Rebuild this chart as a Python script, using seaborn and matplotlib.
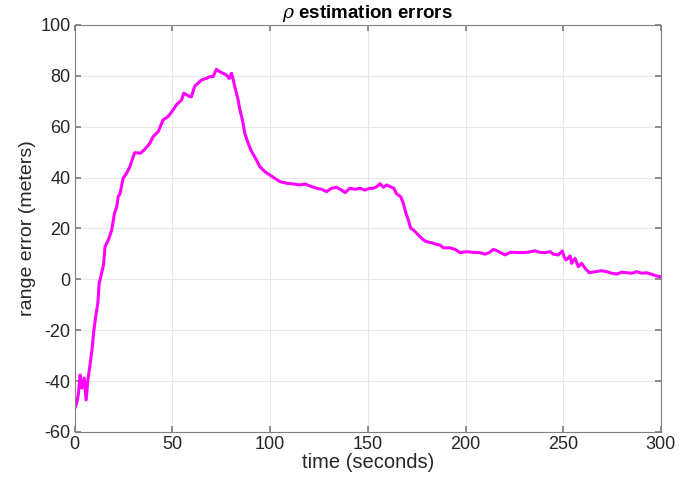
import matplotlib
matplotlib.use("Agg")
import matplotlib.pyplot as plt
import seaborn as sns
import pandas as pd

# Range estimation error of rho over the run
time_s = [
    0.0, 1.0, 1.9, 2.7, 3.6, 4.8, 5.8, 6.7, 7.8, 9.0, 9.6, 10.7, 11.8, 12.5,
    13.5, 14.7, 15.5, 17.2, 18.9, 20.3, 21.5, 22.2, 23.2, 24.7, 26.5, 28.2,
    30.2, 30.7, 33.6, 35.8, 38.4, 40.1, 42.7, 45.2, 47.8, 50.3, 52.0, 54.6,
    55.8, 58.9, 59.7, 61.4, 63.1, 64.9, 67.4, 69.1, 70.8, 72.5, 74.2, 75.9,
    77.6, 79.0, 80.2, 81.1, 81.9, 83.6, 84.5, 85.8, 87.0, 88.7, 90.5, 93.0,
    94.7, 97.3, 99.8, 102.4, 105.0, 108.4, 111.8, 115.2, 117.8, 120.4, 123.8,
    126.3, 128.9, 131.4, 134.0, 136.5, 138.3, 140.8, 143.4, 145.9, 148.5,
    151.0, 152.7, 154.5, 156.2, 157.9, 159.6, 161.6, 163.3, 164.7, 166.8,
    168.1, 169.5, 170.7, 171.9, 173.3, 175.0, 176.7, 178.4, 180.1, 182.6,
    185.2, 186.9, 188.6, 192.0, 194.6, 197.1, 200.5, 203.9, 207.4, 209.9,
    212.1, 214.2, 215.9, 218.5, 220.2, 222.7, 225.3, 227.9, 231.3, 235.5,
    238.1, 240.7, 243.2, 244.9, 247.5, 249.5, 250.4, 251.4, 253.5, 254.3,
    256.0, 257.7, 259.4, 261.1, 263.3, 266.3, 269.7, 272.2, 274.8, 277.4,
    279.9, 282.5, 285.1, 287.6, 290.2, 292.7, 295.3, 297.8, 300.0,
]
range_error_m = [
    -50.7, -48.5, -44.8, -37.6, -42.7, -38.8, -47.4, -39.5, -33.6, -26.4,
    -21.0, -14.6, -9.3, -1.4, 1.7, 5.7, 12.9, 15.5, 19.4, 26.0, 28.6, 32.5,
    33.8, 39.7, 41.7, 44.3, 48.9, 49.8, 49.6, 51.1, 53.5, 56.1, 58.1, 62.7,
    64.0, 66.6, 68.6, 70.5, 73.2, 71.8, 71.8, 76.0, 77.1, 78.4, 79.0, 79.7,
    79.7, 82.6, 81.6, 81.0, 80.3, 79.0, 81.0, 78.4, 75.7, 70.5, 66.6, 62.7,
    57.4, 53.5, 50.2, 46.9, 44.3, 42.3, 41.0, 39.7, 38.4, 37.8, 37.5, 37.1,
    37.5, 36.7, 35.8, 35.4, 34.5, 35.8, 36.2, 35.1, 34.1, 35.8, 35.4, 35.8,
    35.1, 35.8, 35.8, 36.4, 37.6, 36.2, 37.1, 36.4, 35.8, 33.6, 32.5, 29.9,
    26.0, 23.3, 20.1, 19.4, 18.1, 16.8, 15.5, 14.8, 14.4, 13.7, 13.5, 12.4,
    12.4, 11.8, 10.5, 10.9, 10.6, 10.5, 9.9, 10.5, 11.8, 11.3, 10.3, 9.6,
    10.6, 10.6, 10.5, 10.6, 11.2, 10.6, 10.5, 10.9, 9.9, 9.6, 11.2, 8.9, 7.6,
    9.2, 6.3, 8.3, 5.0, 6.3, 4.4, 2.6, 3.0, 3.4, 3.0, 2.4, 2.1, 2.8, 2.6, 2.4,
    3.0, 2.4, 2.6, 2.0, 1.3, 1.0,
]

df = pd.DataFrame({"t": time_s, "err": range_error_m})

sns.set_theme(style="whitegrid")
plt.rcParams["font.family"] = ["Liberation Sans", "DejaVu Sans"]
plt.rcParams["axes.unicode_minus"] = False
plt.rcParams["mathtext.fontset"] = "custom"
plt.rcParams["mathtext.it"] = "DejaVu Serif:italic"

fig = plt.figure(figsize=(6.8, 4.8), dpi=100)
ax = fig.add_axes([0.110, 0.100, 0.862, 0.848])

sns.lineplot(data=df, x="t", y="err", ax=ax, color="#ff00ff", linewidth=2.2,
             estimator=None, sort=False)

ax.set_xlim(0, 300)
ax.set_ylim(-60, 100)
ax.set_xticks(range(0, 301, 50))
ax.set_yticks(range(-60, 101, 20))

ax.grid(True, color="#e6e6e6", linewidth=0.8)
ax.set_facecolor("white")
for side in ax.spines.values():
    side.set_visible(True)
    side.set_color("#808080")
    side.set_linewidth(0.8)

ax.tick_params(axis="both", which="both", direction="in", length=4,
               color="#808080", labelsize=13, labelcolor="#262626",
               top=True, right=True, bottom=True, left=True,
               labeltop=False, labelright=False, pad=3)

ax.set_xlabel("time (seconds)", fontsize=14.5, color="#262626", labelpad=0)
ax.set_ylabel("range error (meters)", fontsize=14, color="#262626", labelpad=3)
ax.set_title(r"$\rho$ estimation errors", fontsize=13.5, fontweight="bold",
             color="#000000", pad=5)

fig.savefig("out.png", dpi=100)
